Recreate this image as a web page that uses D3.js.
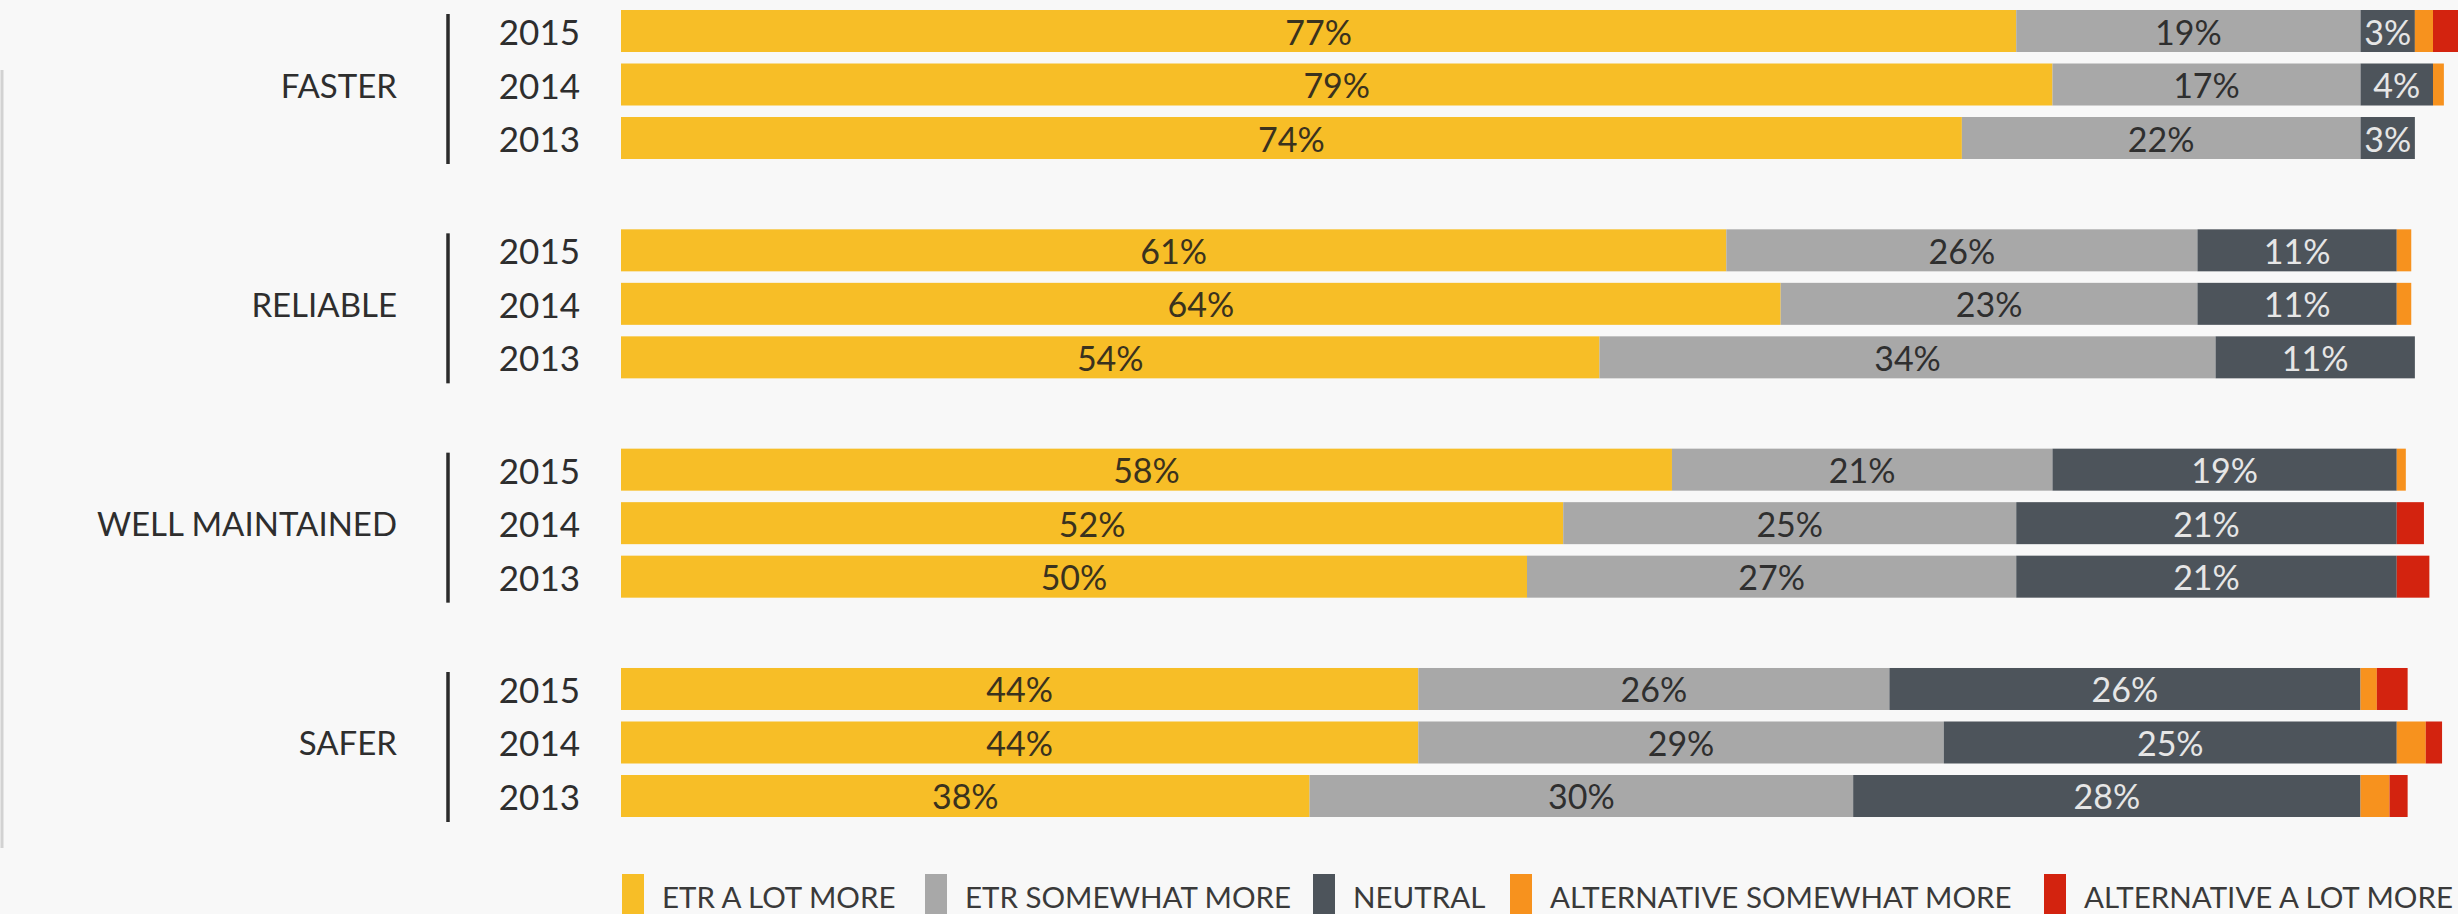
<!DOCTYPE html>
<html>
<head>
<meta charset="utf-8">
<script src="https://cdn.jsdelivr.net/npm/d3@7"></script>
<style>
  html, body { margin: 0; padding: 0; background: #f8f8f8; }
  svg { display: block; }
  text { font-family: Lato, "Open Sans", sans-serif; }
</style>
</head>
<body>
<svg id="chart" width="2458" height="914"></svg>
<script>
// Survey attributes and survey years (rows are attribute x year, newest first)
const categories = ["FASTER", "RELIABLE", "WELL MAINTAINED", "SAFER"];
const years = ["2015", "2014", "2013"];
const seriesNames = [
  "ETR A LOT MORE",
  "ETR SOMEWHAT MORE",
  "NEUTRAL",
  "ALTERNATIVE SOMEWHAT MORE",
  "ALTERNATIVE A LOT MORE"
];

// Share of respondents (%), one value per row in category/year order
const etrALotMore     = [77, 79, 74, 61, 64, 54, 58, 52, 50, 44, 44, 38];
const etrSomewhatMore = [19, 17, 22, 26, 23, 34, 21, 25, 27, 26, 29, 30];
const neutral         = [3, 4, 3, 11, 11, 11, 19, 21, 21, 26, 25, 28];
const altSomewhatMore = [1.0, 0.6, 0, 0.8, 0.8, 0, 0.5, 0, 0, 0.9, 1.6, 1.6];
const altALotMore     = [2.5, 0, 0, 0, 0, 0, 0, 1.5, 1.8, 1.7, 0.9, 1.0];

const seriesValues = [etrALotMore, etrSomewhatMore, neutral, altSomewhatMore, altALotMore];
const labelledSeries = [0, 1, 2];

const colors = ["#f7be27", "#a8a8a8", "#4d545b", "#f7921e", "#d3230f"];
const labelColors = ["#3a321e", "#2f2f2f", "#e6e6e6"];

// legend item left edges
const legendX = [622, 925, 1313, 1510, 2044];

// Build row records
const rows = [];
categories.forEach((cat, ci) => {
  years.forEach((yr, yi) => {
    const idx = ci * years.length + yi;
    const rec = { category: cat, year: yr };
    seriesNames.forEach((s, si) => { rec[s] = seriesValues[si][idx]; });
    rows.push(rec);
  });
});

const stacked = d3.stack().keys(seriesNames)(rows);

const svg = d3.select("#chart");

const x = d3.scaleLinear().domain([0, 100]).range([621, 2433]);

const yGroup = d3.scaleBand()
  .domain(categories)
  .range([10, 817])
  .paddingInner(0.3206)
  .paddingOuter(0);

const yRow = d3.scaleBand()
  .domain(years)
  .range([0, yGroup.bandwidth()])
  .paddingInner(0.215)
  .paddingOuter(0);

const rowY = d => yGroup(d.data.category) + yRow(d.data.year);

// faint frame edge on the left
svg.append("line")
  .attr("x1", 2).attr("x2", 2)
  .attr("y1", 70).attr("y2", 848)
  .attr("stroke", "#d2d2d2")
  .attr("stroke-width", 3);

// stacked segments
const layers = svg.append("g").selectAll("g")
  .data(stacked)
  .join("g")
  .attr("fill", (d, i) => colors[i]);

layers.selectAll("rect")
  .data(d => d)
  .join("rect")
  .attr("x", d => x(d[0]))
  .attr("y", d => rowY(d))
  .attr("width", d => Math.max(0, x(d[1]) - x(d[0])))
  .attr("height", yRow.bandwidth());

// value labels inside the three main segments
const labels = svg.append("g");
labelledSeries.forEach(si => {
  labels.append("g")
    .selectAll("text")
    .data(stacked[si])
    .join("text")
    .attr("x", d => (x(d[0]) + x(d[1])) / 2)
    .attr("y", d => rowY(d) + yRow.bandwidth() / 2)
    .attr("text-anchor", "middle")
    .attr("dominant-baseline", "central")
    .attr("font-size", 34)
    .attr("fill", labelColors[si])
    .text(d => `${d[1] - d[0]}%`);
});

// group labels, brackets and year labels
const groups = svg.append("g").selectAll("g")
  .data(categories)
  .join("g")
  .attr("transform", c => `translate(0,${yGroup(c)})`);

groups.append("text")
  .attr("x", 397)
  .attr("y", yGroup.bandwidth() / 2)
  .attr("text-anchor", "end")
  .attr("dominant-baseline", "central")
  .attr("font-size", 33)
  .attr("fill", "#2e2e2e")
  .text(c => c);

groups.append("line")
  .attr("x1", 448).attr("x2", 448)
  .attr("y1", 4).attr("y2", yGroup.bandwidth() + 5)
  .attr("stroke", "#2b2b2b")
  .attr("stroke-width", 3.5);

groups.selectAll("text.year")
  .data(years)
  .join("text")
  .attr("class", "year")
  .attr("x", 580)
  .attr("y", yr => yRow(yr) + yRow.bandwidth() / 2)
  .attr("text-anchor", "end")
  .attr("dominant-baseline", "central")
  .attr("font-size", 35)
  .attr("fill", "#2e2e2e")
  .text(yr => yr);

// legend
const legend = svg.append("g").attr("transform", "translate(0,874)");
const items = legend.selectAll("g")
  .data(seriesNames)
  .join("g")
  .attr("transform", (d, i) => `translate(${legendX[i]},0)`);

items.append("rect")
  .attr("width", 22).attr("height", 40)
  .attr("fill", (d, i) => colors[i]);

items.append("text")
  .attr("x", 40)
  .attr("y", 34)
  .attr("font-size", 29.5)
  .attr("fill", "#3a3a3a")
  .text(d => d);
</script>
</body>
</html>
